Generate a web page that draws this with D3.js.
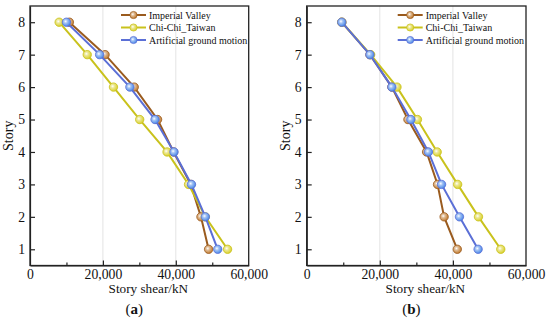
<!DOCTYPE html>
<html><head><meta charset="utf-8">
<script src="https://cdn.jsdelivr.net/npm/d3@7"></script>
<style>
html,body{margin:0;padding:0;background:#fff;}
svg{display:block;font-family:"Liberation Serif","Times New Roman",serif;}
</style></head>
<body>
<svg id="chart" width="550" height="322"></svg>
<script>
// ---- data ----
const stories = [1, 2, 3, 4, 5, 6, 7, 8];
const seriesNames = ["Imperial Valley", "Chi-Chi_Taiwan", "Artificial ground motion"];
// panel (a)
const aImperial   = [49000, 46900, 44100, 39400, 35000, 28600, 20600, 10800];
const aChiChi     = [54200, 48100, 43500, 37600, 30100, 22900, 15700, 8000];
const aArtificial = [51500, 48100, 44300, 39500, 34300, 27400, 19100, 10000];
// panel (b)
const bImperial   = [41200, 37600, 35800, 32800, 27700, 23300, 17300, 9600];
const bChiChi     = [53100, 47000, 41300, 35700, 30300, 24700, 17500, 9600];
const bArtificial = [46900, 41800, 36900, 33300, 28500, 23300, 17300, 9600];
const xTicks = [0, 20000, 40000, 60000];
const xMinorTicks = [10000, 30000, 50000];
const yTicks = [1, 2, 3, 4, 5, 6, 7, 8];
const panelLabels = ["(a)", "(b)"];

const lineColors = ["#9A5B1E", "#C9C21C", "#5B6FD6"];
const markColors = ["#C07A2E", "#D9D02C", "#4A88E8"];

const svg = d3.select("#chart");
const defs = svg.append("defs");
markColors.forEach((c, i) => {
  const g = defs.append("radialGradient").attr("id", "grad" + i)
    .attr("cx", "40%").attr("cy", "40%").attr("r", "60%");
  g.append("stop").attr("offset", "0%").attr("stop-color", "#ffffff");
  g.append("stop").attr("offset", "35%").attr("stop-color", d3.interpolateRgb(c, "#fff")(0.5));
  g.append("stop").attr("offset", "100%").attr("stop-color", c);
});

function panel(left, right, data, label) {
  const top = 6, bottom = 265.5;
  const x = d3.scaleLinear().domain([0, 60000]).range([left, right]);
  const y = d3.scaleLinear().domain([0.5, 8.5]).range([bottom, top]);
  const g = svg.append("g");

  // grid
  g.selectAll(".grid").data([20000, 40000]).enter().append("line")
    .attr("x1", d => x(d)).attr("x2", d => x(d)).attr("y1", top).attr("y2", bottom)
    .attr("stroke", "#e4e4e4").attr("stroke-width", 1);

  // axes
  const xAxis = d3.axisBottom(x).tickValues(xTicks).tickSizeInner(-5).tickSizeOuter(0)
    .tickFormat(d3.format(",")).tickPadding(3.5);
  const gx = g.append("g").attr("transform", `translate(0,${bottom})`).call(xAxis);
  gx.selectAll(".tick").filter(d => d === 0 || d === 60000).select("line").remove();
  const gxm = g.append("g").attr("transform", `translate(0,${bottom})`)
    .call(d3.axisBottom(x).tickValues(xMinorTicks).tickSizeInner(-3).tickSizeOuter(0).tickFormat(""));
  gxm.select(".domain").remove();
  const yAxis = d3.axisLeft(y).tickValues(yTicks).tickSizeInner(-5).tickSizeOuter(0).tickPadding(5);
  const gy = g.append("g").attr("transform", `translate(${left},0)`).call(yAxis);
  [gx, gy, gxm].forEach(a => {
    a.selectAll("text").attr("font-size", 13.7).attr("fill", "#111")
      .attr("font-family", "Liberation Serif, serif");
    a.selectAll("line,path").attr("stroke", "#222").attr("stroke-width", 1.2);
  });
  // frame
  g.append("rect").attr("x", left).attr("y", top).attr("width", right - left).attr("height", bottom - top)
    .attr("fill", "none").attr("stroke", "#222").attr("stroke-width", 1.3);

  // series
  const line = d3.line().x(d => x(d.v)).y(d => y(d.s));
  data.forEach((vals, i) => {
    const pts = stories.map((s, k) => ({ s: s, v: vals[k] }));
    g.append("path").datum(pts).attr("d", line).attr("fill", "none")
      .attr("stroke", lineColors[i]).attr("stroke-width", 2);
    g.selectAll(".m" + i).data(pts).enter().append("circle")
      .attr("cx", d => x(d.v)).attr("cy", d => y(d.s)).attr("r", 4.2)
      .attr("fill", `url(#grad${i})`).attr("stroke", lineColors[i]).attr("stroke-width", 0.8);
  });

  // legend
  const lx = left + 91;
  seriesNames.forEach((n, i) => {
    const ly = 15 + i * 12.5;
    g.append("line").attr("x1", lx).attr("x2", lx + 25).attr("y1", ly).attr("y2", ly)
      .attr("stroke", lineColors[i]).attr("stroke-width", 2);
    g.append("circle").attr("cx", lx + 12.5).attr("cy", ly).attr("r", 3.6)
      .attr("fill", `url(#grad${i})`).attr("stroke", lineColors[i]).attr("stroke-width", 0.7);
    g.append("text").attr("x", lx + 28).attr("y", ly + 3.5).attr("font-size", 10)
      .attr("fill", "#111").text(n);
  });

  // axis titles
  g.append("text").attr("x", (left + right) / 2 + 9).attr("y", 293).attr("text-anchor", "middle")
    .attr("font-size", 13.2).attr("fill", "#111").text("Story shear/kN");
  g.append("text").attr("transform", `translate(${left - 17},${(top + bottom) / 2}) rotate(-90)`)
    .attr("text-anchor", "middle").attr("font-size", 14).attr("fill", "#111").text("Story");
  const pl = g.append("text").attr("x", (left + right) / 2 - 5).attr("y", 313.5).attr("text-anchor", "middle")
    .attr("font-size", 15).attr("fill", "#111");
  pl.append("tspan").text("(");
  pl.append("tspan").attr("font-weight", "bold").text(label.slice(1, 2));
  pl.append("tspan").text(")");
}

panel(30, 248.7, [aImperial, aChiChi, aArtificial], panelLabels[0]);
panel(306.7, 526, [bImperial, bChiChi, bArtificial], panelLabels[1]);
</script>
</body></html>
